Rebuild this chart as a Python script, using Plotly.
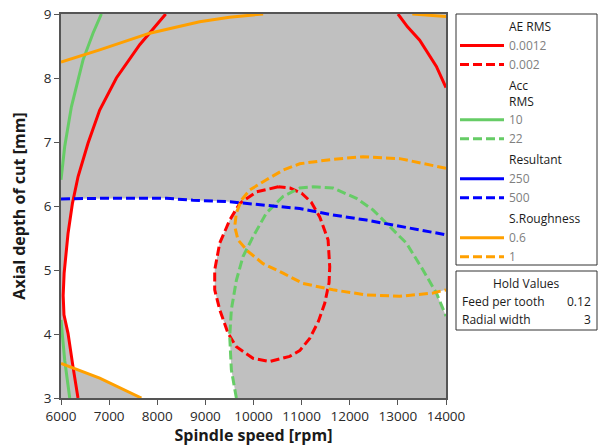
import math
import numpy as np
import plotly.graph_objects as go

# ---------------- data ----------------
# AE RMS = 0.0012 (solid red), two branches
ae_0012_left_x = [8176, 7636, 7151, 6804, 6561, 6355, 6237, 6146, 6065, 6045, 6062, 6146, 6249, 6353]
ae_0012_left_y = [9.0, 8.52, 8.0, 7.5, 6.98, 6.46, 6.04, 5.57, 4.95, 4.6, 4.3, 4.01, 3.49, 3.0]
ae_0012_right_x = [13002, 13200, 13453, 13800, 14000]
ae_0012_right_y = [9.0, 8.8, 8.59, 8.18, 7.85]
# AE RMS = 0.002 (dashed red), closed loop
ae_002_x = [10514, 10060, 9713, 9506, 9298, 9194, 9194, 9298, 9471, 9644, 9990, 10337, 10752,
            10960, 11168, 11350, 11480, 11570, 11584, 11550, 11376, 11200, 11000, 10760, 10514]
ae_002_y = [6.30, 6.22, 6.04, 5.78, 5.42, 5.0, 4.69, 4.38, 4.01, 3.80, 3.62, 3.57, 3.65,
            3.74, 3.93, 4.2, 4.48, 4.8, 5.05, 5.47, 5.83, 6.06, 6.2, 6.28, 6.30]
# Acc RMS = 10 (solid green), two branches
acc_10_top_x = [6000, 6077, 6216, 6457, 6665, 6839]
acc_10_top_y = [6.41, 6.93, 7.55, 8.28, 8.7, 9.0]
acc_10_bot_x = [6000, 6077, 6181]
acc_10_bot_y = [4.22, 3.59, 3.0]
# Acc RMS = 22 (dashed green)
acc_22_x = [9644, 9540, 9506, 9540, 9644, 9782, 9990, 10268, 10614, 10960, 11237, 11652,
            12138, 12483, 12761, 13177, 13522, 13800, 14000]
acc_22_y = [3.0, 3.44, 3.96, 4.38, 4.84, 5.21, 5.52, 5.89, 6.15, 6.28, 6.30, 6.28,
            6.12, 5.94, 5.73, 5.42, 5.0, 4.64, 4.28]
# Resultant = 500 (dashed blue); 250 is not inside the plotted range
res_500_x = [6000, 6804, 8190, 8743, 9436, 9713, 10268, 10960, 11168, 11652, 12345, 13038, 14000]
res_500_y = [6.11, 6.12, 6.12, 6.09, 6.07, 6.05, 6.01, 5.96, 5.93, 5.86, 5.78, 5.68, 5.55]
# S.Roughness = 0.6 (solid orange), three branches
sr_06_top_x = [6000, 6804, 7843, 8882, 9500, 10200]
sr_06_top_y = [8.25, 8.44, 8.70, 8.88, 8.95, 9.0]
sr_06_tr_x = [13300, 13600, 14000]
sr_06_tr_y = [9.0, 8.98, 8.96]
sr_06_bot_x = [6000, 6804, 7670]
sr_06_bot_y = [3.54, 3.31, 3.0]
# S.Roughness = 1 (dashed orange)
sr_1_x = [14000, 13038, 12275, 11652, 10960, 10614, 10268, 9921, 9748, 9644, 9610, 9679,
          9886, 10198, 10614, 11029, 11652, 12345, 13038, 13730, 14000]
sr_1_y = [6.59, 6.74, 6.77, 6.73, 6.66, 6.56, 6.41, 6.25, 6.09, 5.89, 5.68, 5.47,
          5.29, 5.10, 4.95, 4.79, 4.69, 4.61, 4.59, 4.64, 4.69]

x_ticks = [6000, 7000, 8000, 9000, 10000, 11000, 12000, 13000, 14000]
x_tick_text = ["6000", "7000", "8000", "9000", "10000", "11000", "12000", "13000", "14000"]
y_ticks = [3, 4, 5, 6, 7, 8, 9]
hold_names = ["Feed per tooth", "Radial width"]
hold_values = ["0.12", "3"]

# ---------------- geometry helpers ----------------
def P(xs, ys):
    return np.column_stack([xs, ys]).astype(float)

def seg_int(p1, p2, q1, q2):
    d1 = p2 - p1
    d2 = q2 - q1
    den = d1[0] * d2[1] - d1[1] * d2[0]
    if abs(den) < 1e-12:
        return None
    w = q1 - p1
    t = (w[0] * d2[1] - w[1] * d2[0]) / den
    u = (w[0] * d1[1] - w[1] * d1[0]) / den
    if 0 <= t <= 1 and 0 <= u <= 1:
        return t, u
    return None

def inters(A, B):
    out = []
    s = np.array([1 / 1000.0, 1.0])
    An, Bn = A * s, B * s
    for i in range(len(A) - 1):
        for j in range(len(B) - 1):
            r = seg_int(An[i], An[i + 1], Bn[j], Bn[j + 1])
            if r:
                t, u = r
                out.append((i + t, j + u, A[i] + (A[i + 1] - A[i]) * t))
    return out

def point_at(A, pos):
    i = int(math.floor(pos))
    if i >= len(A) - 1:
        return A[-1]
    t = pos - i
    return A[i] + (A[i + 1] - A[i]) * t

def between(A, a, b):
    if a <= b:
        inner = [A[k] for k in range(len(A)) if a < k < b]
        return [point_at(A, a)] + inner + [point_at(A, b)]
    return between(A, b, a)[::-1]

red_l = P(ae_0012_left_x, ae_0012_left_y)
red_d = P(ae_002_x, ae_002_y)
grn_d = P(acc_22_x, acc_22_y)
blu_d = P(res_500_x, res_500_y)
org_b = P(sr_06_bot_x, sr_06_bot_y)
org_d = P(sr_1_x, sr_1_y)

i_rb = inters(red_l, blu_d)[0]
i_ro = inters(red_l, org_b)[0]
i_gr = min(inters(grn_d, red_d), key=lambda r: r[0])
i_db = min(inters(red_d, blu_d), key=lambda r: r[2][0])

poly = []
poly += between(red_l, i_rb[0], i_ro[0])
poly += between(org_b, i_ro[1], len(org_b) - 1)
poly += between(grn_d, 0, i_gr[0])
poly += between(red_d, i_gr[1], i_db[0])
poly += between(blu_d, i_db[1], i_rb[1])
poly = np.array(poly)

i_go = max(inters(grn_d, org_d), key=lambda r: r[2][0])
tri = between(org_d, i_go[1], len(org_d) - 1) + between(grn_d, len(grn_d) - 1, i_go[0])
tri = np.array(tri)

# ---------------- figure ----------------
RED, GREEN, BLUE, ORANGE = "#ff0000", "#66cc66", "#0000ff", "#ffa000"
LW = 3
DASH = "9px,4px"
FONT = "Open Sans"

fig = go.Figure()

for shape in (poly, tri):
    fig.add_trace(go.Scatter(x=shape[:, 0], y=shape[:, 1], mode="lines", fill="toself",
                             fillcolor="white", line=dict(width=0, color="white"),
                             showlegend=False, hoverinfo="skip"))

def cat(*segs):
    xs, ys = [], []
    for sx, sy in segs:
        if xs:
            xs.append(None); ys.append(None)
        xs += list(sx); ys += list(sy)
    return xs, ys

def header(name, group):
    fig.add_trace(go.Scatter(x=[None], y=[None], mode="lines", legendgroup=group,
                             line=dict(color="rgba(0,0,0,0)", width=0),
                             name=f'<span style="color:#1a1a1a">{name}</span>'))

def line(xs, ys, color, dash, name, group):
    fig.add_trace(go.Scatter(x=xs, y=ys, mode="lines", name=name, legendgroup=group,
                             line=dict(color=color, width=LW, dash=dash)))

header("AE RMS", "ae")
line(*cat((ae_0012_left_x, ae_0012_left_y), (ae_0012_right_x, ae_0012_right_y)), RED, "solid", "0.0012", "ae")
line(ae_002_x, ae_002_y, RED, DASH, "0.002", "ae")
header("Acc<br>RMS", "acc")
line(*cat((acc_10_top_x, acc_10_top_y), (acc_10_bot_x, acc_10_bot_y)), GREEN, "solid", "10", "acc")
line(acc_22_x, acc_22_y, GREEN, DASH, "22", "acc")
header("Resultant", "res")
line([None], [None], BLUE, "solid", "250", "res")
line(res_500_x, res_500_y, BLUE, DASH, "500", "res")
header("S.Roughness", "sr")
line(*cat((sr_06_top_x, sr_06_top_y), (sr_06_tr_x, sr_06_tr_y), (sr_06_bot_x, sr_06_bot_y)),
     ORANGE, "solid", "0.6", "sr")
line(sr_1_x, sr_1_y, ORANGE, DASH, "1", "sr")

# plot area in pixels: x 61..446, y 14..398
L, R, T, B = 61, 446, 14, 398
W, H = 600, 446
def px(x):
    return (x - L) / (R - L)
def py(y):
    return (B - y) / (B - T)

axis_common = dict(showline=True, linecolor="#555555", linewidth=1.5, mirror=True,
                   ticks="outside", ticklen=5, tickcolor="#555555", showgrid=False,
                   zeroline=False, tickfont=dict(size=13.5, color="#2a2a2a", family=FONT))

fig.update_layout(
    width=W, height=H,
    margin=dict(l=L, r=W - R, t=T, b=H - B, pad=0, autoexpand=False),
    paper_bgcolor="white", plot_bgcolor="#c0c0c0",
    font=dict(family=FONT, size=12, color="#333333"),
    xaxis=dict(range=[6000, 14000], tickvals=x_ticks, ticktext=x_tick_text,
               title=dict(text="<b>Spindle speed [rpm]</b>", font=dict(size=16, color="#1a1a1a"), standoff=2),
               **axis_common),
    yaxis=dict(range=[3, 9], tickvals=y_ticks,
               title=dict(text="<b>Axial depth of cut [mm]</b>", font=dict(size=16, color="#1a1a1a"), standoff=14),
               **axis_common),
    legend=dict(xref="container", yref="container", x=455 / W, y=1 - 12 / H,
                xanchor="left", yanchor="top", bgcolor="rgba(0,0,0,0)", borderwidth=0,
                font=dict(size=12, color="#808080", family=FONT), itemwidth=44,
                tracegroupgap=2, traceorder="grouped", maxheight=440),
    showlegend=True,
)

# legend frame and hold values box
fig.add_shape(type="rect", xref="paper", yref="paper",
              x0=px(456), x1=px(597), y0=py(265), y1=py(14),
              line=dict(color="#333333", width=1))
fig.add_shape(type="rect", xref="paper", yref="paper",
              x0=px(456), x1=px(597), y0=py(330), y1=py(271),
              line=dict(color="#333333", width=1))
fig.add_annotation(xref="paper", yref="paper", x=px(526), y=py(283), text="Hold Values",
                   showarrow=False, font=dict(size=12, color="#1a1a1a", family=FONT),
                   xanchor="center", yanchor="middle")
for k, (nm, val) in enumerate(zip(hold_names, hold_values)):
    yy = py(301 + 18 * k)
    fig.add_annotation(xref="paper", yref="paper", x=px(460), y=yy, text=nm, showarrow=False,
                       font=dict(size=12, color="#1a1a1a", family=FONT), xanchor="left", yanchor="middle")
    fig.add_annotation(xref="paper", yref="paper", x=px(593), y=yy, text=val, showarrow=False,
                       font=dict(size=12, color="#1a1a1a", family=FONT), xanchor="right", yanchor="middle")

fig.write_html("out.html", config={"displayModeBar": False},
               post_script="document.body.style.margin='0';document.body.style.padding='0';")
